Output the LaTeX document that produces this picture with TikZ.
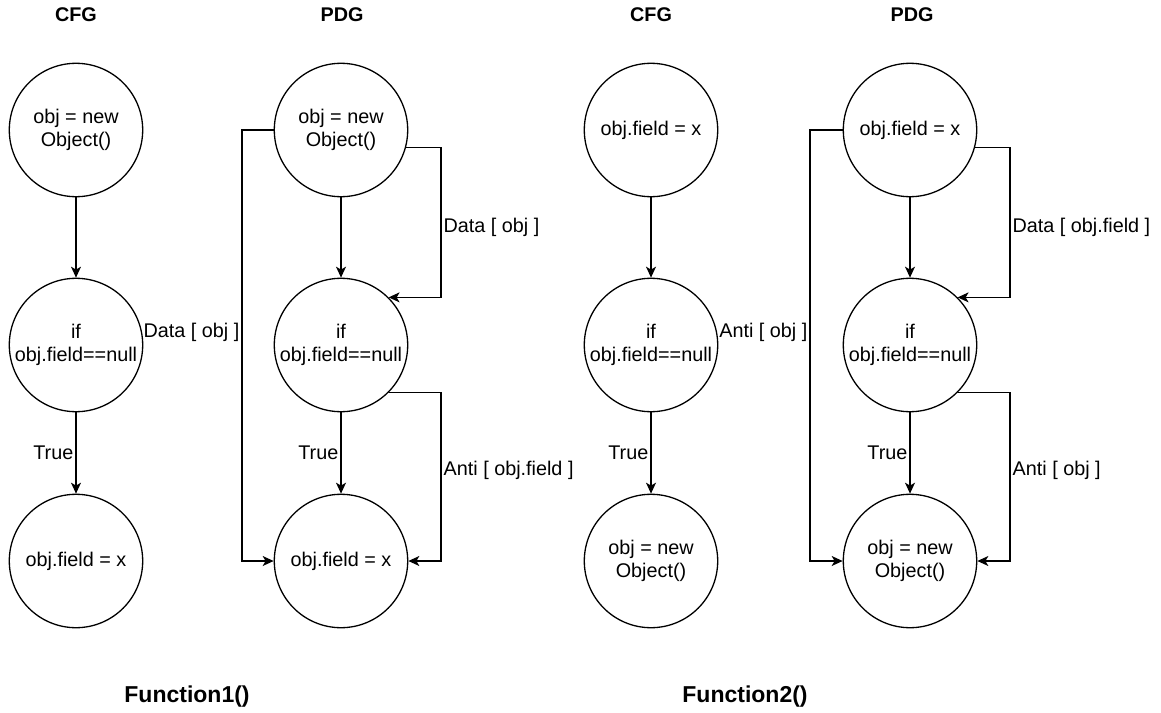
\documentclass[tikz,border=0pt]{standalone}
\usepackage{fontspec}
\setmainfont{Liberation Sans}
\usetikzlibrary{arrows.meta,calc}
\begin{document}
\begin{tikzpicture}[x=1pt,y=-1pt,
  stmt/.style={circle,draw,line width=1.3pt,minimum size=133.4pt,inner sep=0pt,align=center,font=\fontsize{19.8}{23.3}\selectfont},
  lbl/.style={inner sep=2pt,font=\fontsize{19.8}{23.3}\selectfont},
  ttl/.style={inner sep=0pt,font=\fontsize{19.8}{23.3}\selectfont\bfseries},
  fttl/.style={inner sep=0pt,font=\fontsize{23}{27}\selectfont\bfseries},
  conn/.style={line width=1.3pt,-{Stealth[length=11pt,width=10pt,inset=3pt]}},
]
\useasboundingbox (0,0) rectangle (1161,712);

% titles
\node[ttl] (t1) at (76,15) {CFG};
\node[ttl] (t2) at (342,15) {PDG};
\node[ttl] (t3) at (651,15) {CFG};
\node[ttl] (t4) at (912,15) {PDG};
\node[fttl] (f1) at (187,697) {Function1()};
\node[fttl] (f2) at (745,697) {Function2()};

% Function1 CFG
\node[stmt] (c1a) at (76,130) {obj = new\\Object()};
\node[stmt] (c1b) at (76,345) {if\\obj.field==null};
\node[stmt] (c1c) at (76,561) {obj.field = x};
\draw[conn] (c1a) -- (c1b);
\draw[conn] (c1b) -- node[lbl,left] {True} (c1c);

% Function1 PDG
\node[stmt] (p1a) at (341,130) {obj = new\\Object()};
\node[stmt] (p1b) at (341,345) {if\\obj.field==null};
\node[stmt] (p1c) at (341,561) {obj.field = x};
\coordinate (l1) at (242,0);
\coordinate (r1) at (441,0);
\draw[conn] (p1a) -- (p1b);
\draw[conn] (p1b) -- node[lbl,left] {True} (p1c);
\draw[conn] (p1a.west) -- (p1a.west -| l1) -- node[lbl,left,pos=0.47] {Data [ obj ]} (p1c.west -| l1) -- (p1c.west);
\draw[conn] (p1a.-15) -- (p1a.-15 -| r1) -- node[lbl,right,pos=0.53] {Data [ obj ]} (p1b.45 -| r1) -- (p1b.45);
\draw[conn] (p1b.-45) -- (p1b.-45 -| r1) -- node[lbl,right,pos=0.46] {Anti [ obj.field ]} (p1c.east -| r1) -- (p1c.east);

% Function2 CFG
\node[stmt] (c2a) at (651,130) {obj.field = x};
\node[stmt] (c2b) at (651,345) {if\\obj.field==null};
\node[stmt] (c2c) at (651,561) {obj = new\\Object()};
\draw[conn] (c2a) -- (c2b);
\draw[conn] (c2b) -- node[lbl,left] {True} (c2c);

% Function2 PDG
\node[stmt] (p2a) at (910,130) {obj.field = x};
\node[stmt] (p2b) at (910,345) {if\\obj.field==null};
\node[stmt] (p2c) at (910,561) {obj = new\\Object()};
\coordinate (l2) at (810,0);
\coordinate (r2) at (1010,0);
\draw[conn] (p2a) -- (p2b);
\draw[conn] (p2b) -- node[lbl,left] {True} (p2c);
\draw[conn] (p2a.west) -- (p2a.west -| l2) -- node[lbl,left,pos=0.47] {Anti [ obj ]} (p2c.west -| l2) -- (p2c.west);
\draw[conn] (p2a.-15) -- (p2a.-15 -| r2) -- node[lbl,right,pos=0.53] {Data [ obj.field ]} (p2b.45 -| r2) -- (p2b.45);
\draw[conn] (p2b.-45) -- (p2b.-45 -| r2) -- node[lbl,right,pos=0.46] {Anti [ obj ]} (p2c.east -| r2) -- (p2c.east);
\end{tikzpicture}
\end{document}
